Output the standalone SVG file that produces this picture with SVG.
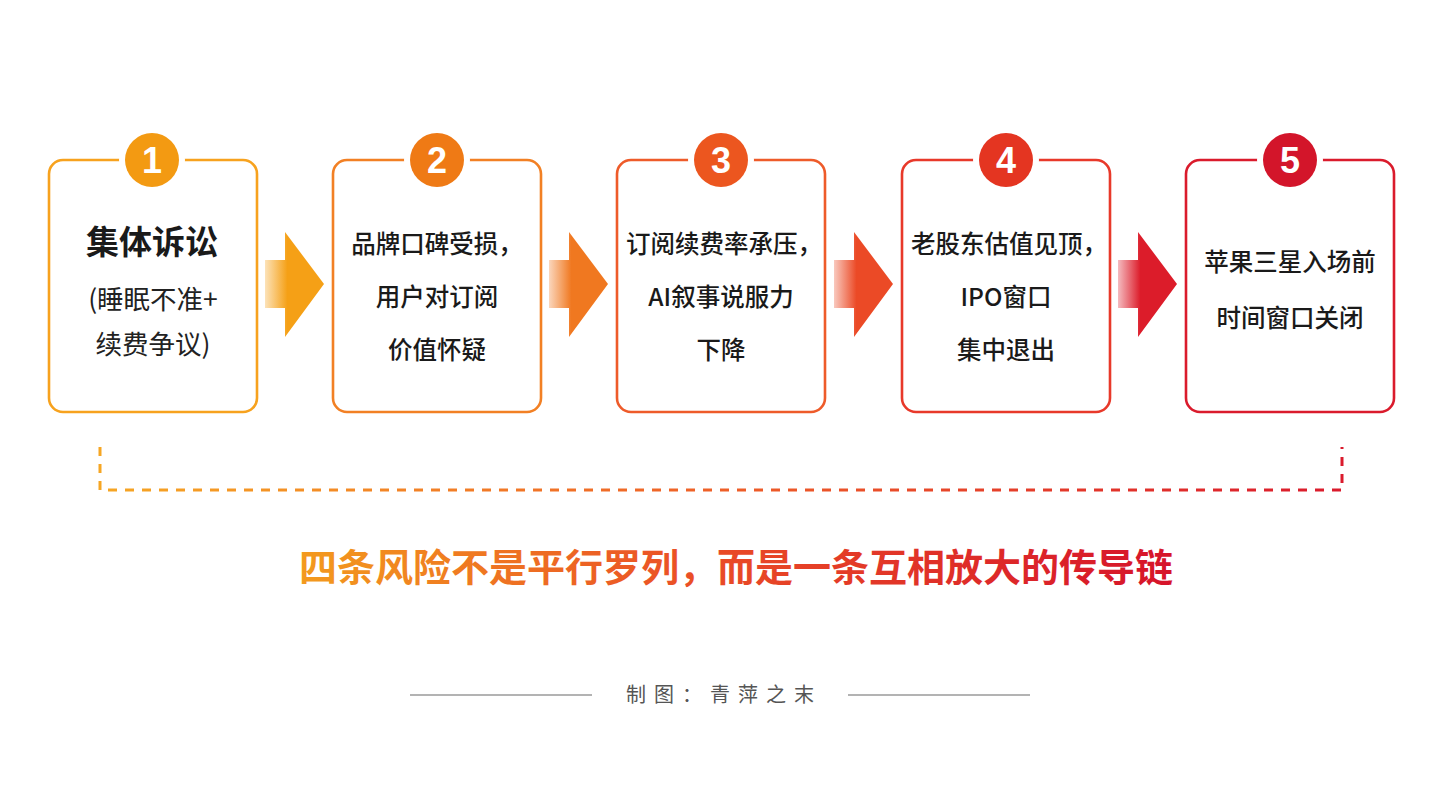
<svg xmlns="http://www.w3.org/2000/svg" width="1439" height="810" viewBox="0 0 1439 810">
<style>
.box{fill:#fff;stroke-width:2.6}
.num{font-family:"Liberation Sans","Noto Sans CJK SC",sans-serif;font-weight:700;font-size:36px;fill:#fff;text-anchor:middle}
.t{font-family:"Noto Sans CJK SC","Noto Sans",sans-serif;font-size:24.5px;font-weight:500;fill:#1a1a1a;text-anchor:middle}
.title{font-size:33px;font-weight:700}
.sub{font-size:26.5px;font-weight:400;fill:#222}
.foot{font-family:"Noto Sans CJK SC",sans-serif;font-size:20px;fill:#555;letter-spacing:8px;text-anchor:middle}
</style>
<defs>
<linearGradient id="a1" x1="0" y1="0" x2="1" y2="0"><stop offset="0" stop-color="#F5A016" stop-opacity="0.3"/><stop offset="0.38" stop-color="#F5A016"/></linearGradient>
<linearGradient id="a2" x1="0" y1="0" x2="1" y2="0"><stop offset="0" stop-color="#F07820" stop-opacity="0.3"/><stop offset="0.38" stop-color="#F07820"/></linearGradient>
<linearGradient id="a3" x1="0" y1="0" x2="1" y2="0"><stop offset="0" stop-color="#EB4A26" stop-opacity="0.3"/><stop offset="0.38" stop-color="#EB4A26"/></linearGradient>
<linearGradient id="a4" x1="0" y1="0" x2="1" y2="0"><stop offset="0" stop-color="#DC1C2A" stop-opacity="0.3"/><stop offset="0.38" stop-color="#DC1C2A"/></linearGradient>
<linearGradient id="dash" gradientUnits="userSpaceOnUse" x1="100" y1="0" x2="1342" y2="0"><stop offset="0" stop-color="#F6A623"/><stop offset="0.5" stop-color="#EE5F28"/><stop offset="1" stop-color="#DA1A2C"/></linearGradient>
<linearGradient id="main" gradientUnits="userSpaceOnUse" x1="303" y1="0" x2="1170" y2="0"><stop offset="0" stop-color="#F39A1E"/><stop offset="0.45" stop-color="#EA4E26"/><stop offset="1" stop-color="#D6142A"/></linearGradient>
</defs>
<rect width="1439" height="810" fill="#fff"/>

<g id="connectors">
<polygon points="265,260 285,260 285,232 324,284 285,337 285,308 265,308" fill="url(#a1)"/>
<polygon points="549,260 569,260 569,232 608,284 569,337 569,308 549,308" fill="url(#a2)"/>
<polygon points="834,260 854,260 854,232 893,284 854,337 854,308 834,308" fill="url(#a3)"/>
<polygon points="1118,260 1138,260 1138,232 1177,284 1138,337 1138,308 1118,308" fill="url(#a4)"/>
<path d="M100,447 V490 H1342 V447" fill="none" stroke="url(#dash)" stroke-width="3" stroke-dasharray="9 8" stroke-linejoin="round"/>
</g>

<g id="node1">
<rect class="box" x="49" y="160" width="208" height="252" rx="14" stroke="#F7A21E"/>
<circle cx="152" cy="160" r="33" fill="#fff"/>
<circle cx="152" cy="160" r="27" fill="#F39A12"/>
<text class="num" x="152" y="173">1</text>
<text class="t title" x="152" y="254">集体诉讼</text>
<text class="t sub" x="153" y="309">(睡眠不准+</text>
<text class="t sub" x="153" y="354">续费争议)</text>
</g>

<g id="node2">
<rect class="box" x="333" y="160" width="208" height="252" rx="14" stroke="#F28024"/>
<circle cx="437" cy="160" r="33" fill="#fff"/>
<circle cx="437" cy="160" r="27" fill="#EF7A15"/>
<text class="num" x="437" y="173">2</text>
<text class="t" x="437" y="253">品牌口碑受损，</text>
<text class="t" x="437" y="306">用户对订阅</text>
<text class="t" x="437" y="359">价值怀疑</text>
</g>

<g id="node3">
<rect class="box" x="617" y="160" width="208" height="252" rx="14" stroke="#EE5B2A"/>
<circle cx="721" cy="160" r="33" fill="#fff"/>
<circle cx="721" cy="160" r="27" fill="#EC561F"/>
<text class="num" x="721" y="173">3</text>
<text class="t" x="724" y="253">订阅续费率承压，</text>
<text class="t" x="721" y="306">AI叙事说服力</text>
<text class="t" x="721" y="359">下降</text>
</g>

<g id="node4">
<rect class="box" x="902" y="160" width="208" height="252" rx="14" stroke="#E8392A"/>
<circle cx="1006" cy="160" r="33" fill="#fff"/>
<circle cx="1006" cy="160" r="27" fill="#E43521"/>
<text class="num" x="1006" y="173">4</text>
<text class="t" x="1009" y="253">老股东估值见顶，</text>
<text class="t" x="1006" y="306">IPO窗口</text>
<text class="t" x="1006" y="359">集中退出</text>
</g>

<g id="node5">
<rect class="box" x="1186" y="160" width="208" height="252" rx="14" stroke="#DA1B2C"/>
<circle cx="1290" cy="160" r="33" fill="#fff"/>
<circle cx="1290" cy="160" r="27" fill="#D3152A"/>
<text class="num" x="1290" y="173">5</text>
<text class="t" x="1290" y="271">苹果三星入场前</text>
<text class="t" x="1290" y="327">时间窗口关闭</text>
</g>

<text x="736" y="581" font-family="Noto Sans CJK SC, sans-serif" font-size="38" font-weight="700" text-anchor="middle" fill="url(#main)">四条风险不是平行罗列，而是一条互相放大的传导链</text>

<g id="footer">
<line x1="410" y1="695" x2="592" y2="695" stroke="#9a9a9a" stroke-width="1.5"/>
<line x1="848" y1="695" x2="1030" y2="695" stroke="#9a9a9a" stroke-width="1.5"/>
<text class="foot" x="724" y="702">制图：青萍之末</text>
</g>
</svg>
